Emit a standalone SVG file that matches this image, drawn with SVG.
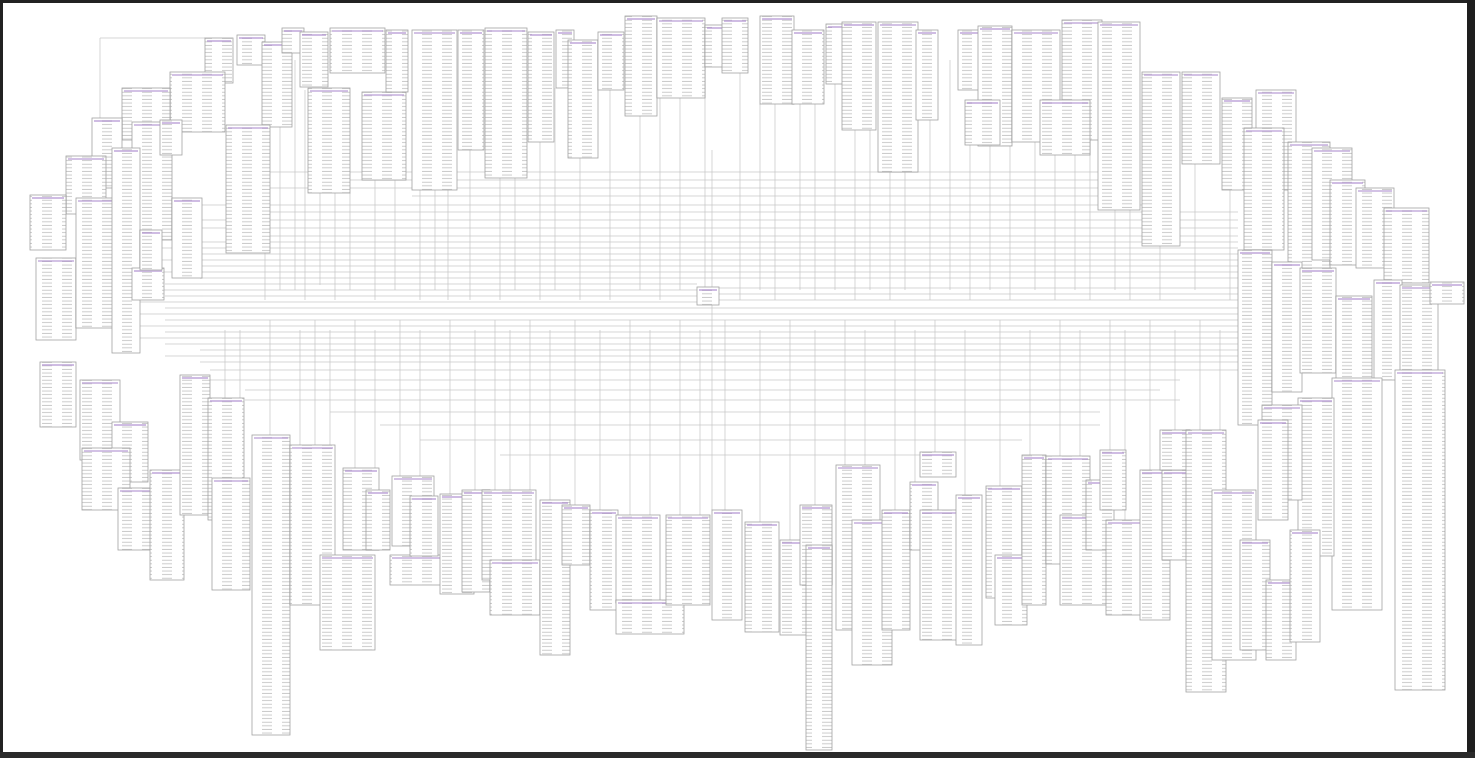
<svg xmlns="http://www.w3.org/2000/svg" width="1475" height="758" viewBox="0 0 1475 758">
<style>
.n rect{fill:url(#rows);stroke:#a2a2a2;stroke-width:0.8}
.n path{stroke:#a886cc;stroke-width:1.1;fill:none}
#connectors path{stroke:#c4c4c4;stroke-width:0.7;fill:none}
</style>
<defs>
<pattern id="rows" width="20" height="3.6" patternUnits="userSpaceOnUse"><rect width="20" height="3.6" fill="#fff"/><path d="M2 2.2h10" stroke="#c2c2c2" stroke-width="0.9"/></pattern>
</defs>
<rect x="0" y="0" width="1475" height="758" fill="#fff"/>
<g id="connectors">
<path d="M270 172H1098M345 180H1140M270 188H1098M412 196H1140M200 205H1142M270 212H1238M200 220H1238M160 228H1238M270 236H1238M200 242H1238M160 248H1238M200 254H1238M160 260H1238M200 266H1238M160 272H1238M200 278H1238M165 284H697M120 290H697M165 296H697M719 288H1238M719 294H1238M719 300H1238M120 302H697M165 308H1238M120 314H1238M165 320H1238M120 326H1238M165 332H1238M120 338H1238M165 344H1238M200 350H1238M165 356H1238M200 362H1238M210 370H1238M210 380H1180M245 390H1160M245 400H1180M330 412H1100M380 425H1100M420 440H1022M500 455H920M100 38H205M100 38V120"/>
<path d="M265 127V300M280 50V290M295 60V290M305 90V300M320 193V285M335 193V300M350 193V290M375 180V300M395 92V290M420 190V300M435 190V290M448 190V300M470 150V300M500 178V300M515 178V290M540 142V300M555 88V290M580 158V300M610 90V300M640 116V290M660 98V300M680 98V290M705 67V300M740 73V300M760 104V290M775 104V300M800 104V290M815 104V300M835 84V290M855 130V300M870 130V290M890 172V300M905 172V290M930 120V300M950 60V290M970 145V300M990 146V290M1010 146V300M1035 142V290M1055 155V300M1075 140V290M1090 140V300M1115 210V290M1130 210V300M1160 246V300M1195 164V290M1230 190V300M712 150V510"/>
<path d="M225 330V398M240 330V435M270 320V435M300 330V445M315 320V445M330 330V445M355 320V468M375 330V490M400 320V476M420 330V496M450 320V494M475 330V490M495 320V490M510 330V490M530 320V490M550 330V500M575 320V505M600 330V510M630 320V515M650 330V515M680 320V515M700 330V515M725 320V510M760 330V522M790 320V540M815 330V505M845 320V465M865 330V465M895 320V510M915 330V482M935 320V452M965 330V495M1000 320V486M1030 330V455M1060 320V456M1080 330V480M1110 320V450M1125 330V520M1150 320V470M1175 330V470M1200 320V430M1220 330V490"/>
</g>
<g id="nodes">
<g id="t1" class="n"><rect x="205" y="38" width="28" height="45"/><path d="M207 41h24"/></g>
<g id="t2" class="n"><rect x="237" y="35" width="28" height="30"/><path d="M239 38h24"/></g>
<g id="t3" class="n"><rect x="262" y="42" width="30" height="85"/><path d="M264 45h26"/></g>
<g id="t4" class="n"><rect x="282" y="28" width="22" height="25"/><path d="M284 31h18"/></g>
<g id="t5" class="n"><rect x="300" y="32" width="28" height="55"/><path d="M302 35h24"/></g>
<g id="t6" class="n"><rect x="330" y="28" width="55" height="45"/><path d="M332 31h51"/></g>
<g id="t7" class="n"><rect x="308" y="88" width="42" height="105"/><path d="M310 91h38"/></g>
<g id="t8" class="n"><rect x="362" y="92" width="44" height="88"/><path d="M364 95h40"/></g>
<g id="t9" class="n"><rect x="386" y="30" width="22" height="62"/><path d="M388 33h18"/></g>
<g id="t10" class="n"><rect x="412" y="30" width="45" height="160"/><path d="M414 33h41"/></g>
<g id="t11" class="n"><rect x="458" y="30" width="26" height="120"/><path d="M460 33h22"/></g>
<g id="t12" class="n"><rect x="485" y="28" width="42" height="150"/><path d="M487 31h38"/></g>
<g id="t13" class="n"><rect x="528" y="32" width="26" height="110"/><path d="M530 35h22"/></g>
<g id="t14" class="n"><rect x="556" y="30" width="18" height="58"/><path d="M558 33h14"/></g>
<g id="t15" class="n"><rect x="568" y="40" width="30" height="118"/><path d="M570 43h26"/></g>
<g id="t16" class="n"><rect x="598" y="32" width="26" height="58"/><path d="M600 35h22"/></g>
<g id="t17" class="n"><rect x="625" y="16" width="32" height="100"/><path d="M627 19h28"/></g>
<g id="t18" class="n"><rect x="657" y="18" width="48" height="80"/><path d="M659 21h44"/></g>
<g id="t19" class="n"><rect x="705" y="25" width="28" height="42"/><path d="M707 28h24"/></g>
<g id="t20" class="n"><rect x="722" y="18" width="26" height="55"/><path d="M724 21h22"/></g>
<g id="t21" class="n"><rect x="760" y="16" width="34" height="88"/><path d="M762 19h30"/></g>
<g id="t22" class="n"><rect x="792" y="30" width="32" height="74"/><path d="M794 33h28"/></g>
<g id="t23" class="n"><rect x="826" y="24" width="22" height="60"/><path d="M828 27h18"/></g>
<g id="t24" class="n"><rect x="842" y="22" width="34" height="108"/><path d="M844 25h30"/></g>
<g id="t25" class="n"><rect x="878" y="22" width="40" height="150"/><path d="M880 25h36"/></g>
<g id="t26" class="n"><rect x="916" y="30" width="22" height="90"/><path d="M918 33h18"/></g>
<g id="t27" class="n"><rect x="958" y="30" width="26" height="60"/><path d="M960 33h22"/></g>
<g id="t28" class="n"><rect x="978" y="26" width="34" height="120"/><path d="M980 29h30"/></g>
<g id="t29" class="n"><rect x="1012" y="30" width="48" height="112"/><path d="M1014 33h44"/></g>
<g id="t30" class="n"><rect x="1062" y="20" width="40" height="120"/><path d="M1064 23h36"/></g>
<g id="t31" class="n"><rect x="1098" y="22" width="42" height="188"/><path d="M1100 25h38"/></g>
<g id="t32" class="n"><rect x="1142" y="72" width="38" height="174"/><path d="M1144 75h34"/></g>
<g id="t33" class="n"><rect x="1182" y="72" width="38" height="92"/><path d="M1184 75h34"/></g>
<g id="t34" class="n"><rect x="1222" y="98" width="30" height="92"/><path d="M1224 101h26"/></g>
<g id="t35" class="n"><rect x="1256" y="90" width="40" height="100"/><path d="M1258 93h36"/></g>
<g id="t36" class="n"><rect x="965" y="100" width="35" height="45"/><path d="M967 103h31"/></g>
<g id="t37" class="n"><rect x="1040" y="100" width="50" height="55"/><path d="M1042 103h46"/></g>
<g id="t39" class="n"><rect x="170" y="72" width="55" height="60"/><path d="M172 75h51"/></g>
<g id="t40" class="n"><rect x="122" y="88" width="48" height="52"/><path d="M124 91h44"/></g>
<g id="t41" class="n"><rect x="92" y="118" width="30" height="70"/><path d="M94 121h26"/></g>
<g id="t42" class="n"><rect x="132" y="122" width="40" height="118"/><path d="M134 125h36"/></g>
<g id="t43" class="n"><rect x="226" y="125" width="44" height="128"/><path d="M228 128h40"/></g>
<g id="t44" class="n"><rect x="66" y="156" width="40" height="58"/><path d="M68 159h36"/></g>
<g id="t45" class="n"><rect x="30" y="195" width="36" height="55"/><path d="M32 198h32"/></g>
<g id="t46" class="n"><rect x="36" y="258" width="40" height="82"/><path d="M38 261h36"/></g>
<g id="t47" class="n"><rect x="76" y="198" width="46" height="130"/><path d="M78 201h42"/></g>
<g id="t48" class="n"><rect x="112" y="148" width="28" height="205"/><path d="M114 151h24"/></g>
<g id="t49" class="n"><rect x="172" y="198" width="30" height="80"/><path d="M174 201h26"/></g>
<g id="t50" class="n"><rect x="132" y="268" width="32" height="32"/><path d="M134 271h28"/></g>
<g id="t51" class="n"><rect x="140" y="230" width="22" height="40"/><path d="M142 233h18"/></g>
<g id="t52" class="n"><rect x="160" y="120" width="22" height="35"/><path d="M162 123h18"/></g>
<g id="t53" class="n"><rect x="1244" y="128" width="40" height="122"/><path d="M1246 131h36"/></g>
<g id="t54" class="n"><rect x="1288" y="142" width="42" height="130"/><path d="M1290 145h38"/></g>
<g id="t55" class="n"><rect x="1312" y="148" width="40" height="112"/><path d="M1314 151h36"/></g>
<g id="t56" class="n"><rect x="1330" y="180" width="35" height="85"/><path d="M1332 183h31"/></g>
<g id="t57" class="n"><rect x="1356" y="188" width="38" height="80"/><path d="M1358 191h34"/></g>
<g id="t58" class="n"><rect x="1384" y="208" width="45" height="75"/><path d="M1386 211h41"/></g>
<g id="t59" class="n"><rect x="1238" y="250" width="34" height="175"/><path d="M1240 253h30"/></g>
<g id="t60" class="n"><rect x="1272" y="262" width="30" height="130"/><path d="M1274 265h26"/></g>
<g id="t61" class="n"><rect x="1300" y="268" width="36" height="105"/><path d="M1302 271h32"/></g>
<g id="t62" class="n"><rect x="1336" y="296" width="36" height="110"/><path d="M1338 299h32"/></g>
<g id="t63" class="n"><rect x="1374" y="280" width="28" height="100"/><path d="M1376 283h24"/></g>
<g id="t64" class="n"><rect x="1400" y="285" width="38" height="100"/><path d="M1402 288h34"/></g>
<g id="t65" class="n"><rect x="1430" y="282" width="34" height="22"/><path d="M1432 285h30"/></g>
<g id="t66" class="n"><rect x="1395" y="370" width="50" height="320"/><path d="M1397 373h46"/></g>
<g id="t67" class="n"><rect x="1332" y="378" width="50" height="232"/><path d="M1334 381h46"/></g>
<g id="t68" class="n"><rect x="1298" y="398" width="36" height="158"/><path d="M1300 401h32"/></g>
<g id="t69" class="n"><rect x="1262" y="405" width="40" height="95"/><path d="M1264 408h36"/></g>
<g id="t70" class="n"><rect x="40" y="362" width="36" height="65"/><path d="M42 365h32"/></g>
<g id="t71" class="n"><rect x="80" y="380" width="40" height="80"/><path d="M82 383h36"/></g>
<g id="t72" class="n"><rect x="112" y="422" width="36" height="60"/><path d="M114 425h32"/></g>
<g id="t73" class="n"><rect x="82" y="448" width="48" height="62"/><path d="M84 451h44"/></g>
<g id="t74" class="n"><rect x="118" y="488" width="46" height="62"/><path d="M120 491h42"/></g>
<g id="t75" class="n"><rect x="150" y="470" width="34" height="110"/><path d="M152 473h30"/></g>
<g id="t76" class="n"><rect x="180" y="375" width="30" height="140"/><path d="M182 378h26"/></g>
<g id="t77" class="n"><rect x="208" y="398" width="36" height="122"/><path d="M210 401h32"/></g>
<g id="t78" class="n"><rect x="212" y="478" width="38" height="112"/><path d="M214 481h34"/></g>
<g id="t79" class="n"><rect x="252" y="435" width="38" height="300"/><path d="M254 438h34"/></g>
<g id="t80" class="n"><rect x="290" y="445" width="45" height="160"/><path d="M292 448h41"/></g>
<g id="t81" class="n"><rect x="320" y="555" width="55" height="95"/><path d="M322 558h51"/></g>
<g id="t82" class="n"><rect x="343" y="468" width="36" height="82"/><path d="M345 471h32"/></g>
<g id="t83" class="n"><rect x="366" y="490" width="24" height="60"/><path d="M368 493h20"/></g>
<g id="t84" class="n"><rect x="392" y="476" width="42" height="70"/><path d="M394 479h38"/></g>
<g id="t85" class="n"><rect x="390" y="555" width="60" height="30"/><path d="M392 558h56"/></g>
<g id="t86" class="n"><rect x="410" y="496" width="28" height="60"/><path d="M412 499h24"/></g>
<g id="t87" class="n"><rect x="440" y="494" width="34" height="100"/><path d="M442 497h30"/></g>
<g id="t88" class="n"><rect x="462" y="490" width="28" height="102"/><path d="M464 493h24"/></g>
<g id="t89" class="n"><rect x="482" y="490" width="54" height="90"/><path d="M484 493h50"/></g>
<g id="t90" class="n"><rect x="490" y="560" width="50" height="55"/><path d="M492 563h46"/></g>
<g id="t91" class="n"><rect x="540" y="500" width="30" height="155"/><path d="M542 503h26"/></g>
<g id="t92" class="n"><rect x="562" y="505" width="28" height="60"/><path d="M564 508h24"/></g>
<g id="t93" class="n"><rect x="590" y="510" width="28" height="100"/><path d="M592 513h24"/></g>
<g id="t94" class="n"><rect x="616" y="515" width="44" height="88"/><path d="M618 518h40"/></g>
<g id="t95" class="n"><rect x="616" y="600" width="68" height="34"/><path d="M618 603h64"/></g>
<g id="t96" class="n"><rect x="666" y="515" width="44" height="90"/><path d="M668 518h40"/></g>
<g id="t97" class="n"><rect x="712" y="510" width="30" height="110"/><path d="M714 513h26"/></g>
<g id="t98" class="n"><rect x="745" y="522" width="34" height="110"/><path d="M747 525h30"/></g>
<g id="t99" class="n"><rect x="780" y="540" width="30" height="95"/><path d="M782 543h26"/></g>
<g id="t100" class="n"><rect x="800" y="505" width="32" height="80"/><path d="M802 508h28"/></g>
<g id="t101" class="n"><rect x="806" y="545" width="26" height="205"/><path d="M808 548h22"/></g>
<g id="t102" class="n"><rect x="836" y="465" width="44" height="165"/><path d="M838 468h40"/></g>
<g id="t103" class="n"><rect x="852" y="520" width="40" height="145"/><path d="M854 523h36"/></g>
<g id="t104" class="n"><rect x="882" y="510" width="28" height="120"/><path d="M884 513h24"/></g>
<g id="t105" class="n"><rect x="910" y="482" width="28" height="68"/><path d="M912 485h24"/></g>
<g id="t106" class="n"><rect x="920" y="452" width="36" height="25"/><path d="M922 455h32"/></g>
<g id="t107" class="n"><rect x="920" y="510" width="40" height="130"/><path d="M922 513h36"/></g>
<g id="t108" class="n"><rect x="956" y="495" width="26" height="150"/><path d="M958 498h22"/></g>
<g id="t109" class="n"><rect x="986" y="486" width="36" height="112"/><path d="M988 489h32"/></g>
<g id="t110" class="n"><rect x="995" y="555" width="32" height="70"/><path d="M997 558h28"/></g>
<g id="t111" class="n"><rect x="1022" y="455" width="24" height="150"/><path d="M1024 458h20"/></g>
<g id="t112" class="n"><rect x="1046" y="456" width="44" height="108"/><path d="M1048 459h40"/></g>
<g id="t113" class="n"><rect x="1060" y="515" width="50" height="90"/><path d="M1062 518h46"/></g>
<g id="t114" class="n"><rect x="1086" y="480" width="28" height="70"/><path d="M1088 483h24"/></g>
<g id="t115" class="n"><rect x="1100" y="450" width="26" height="60"/><path d="M1102 453h22"/></g>
<g id="t116" class="n"><rect x="1106" y="520" width="40" height="95"/><path d="M1108 523h36"/></g>
<g id="t117" class="n"><rect x="1140" y="470" width="30" height="150"/><path d="M1142 473h26"/></g>
<g id="t118" class="n"><rect x="1162" y="470" width="30" height="90"/><path d="M1164 473h26"/></g>
<g id="t125" class="n"><rect x="1160" y="430" width="30" height="40"/><path d="M1162 433h26"/></g>
<g id="t119" class="n"><rect x="1186" y="430" width="40" height="262"/><path d="M1188 433h36"/></g>
<g id="t120" class="n"><rect x="1212" y="490" width="44" height="170"/><path d="M1214 493h40"/></g>
<g id="t121" class="n"><rect x="1240" y="540" width="30" height="110"/><path d="M1242 543h26"/></g>
<g id="t122" class="n"><rect x="1258" y="420" width="30" height="100"/><path d="M1260 423h26"/></g>
<g id="t123" class="n"><rect x="1266" y="580" width="30" height="80"/><path d="M1268 583h26"/></g>
<g id="t124" class="n"><rect x="1290" y="530" width="30" height="112"/><path d="M1292 533h26"/></g>
<g id="t126" class="n"><rect x="697" y="287" width="22" height="18"/><path d="M699 290h18"/></g>
</g>
<rect x="1.5" y="1.5" width="1472" height="754" fill="none" stroke="#222" stroke-width="3"/>
<rect x="1467" y="0" width="8" height="758" fill="#1e1e1e"/>
<rect x="0" y="752" width="1475" height="6" fill="#2a2a2a"/>
</svg>
